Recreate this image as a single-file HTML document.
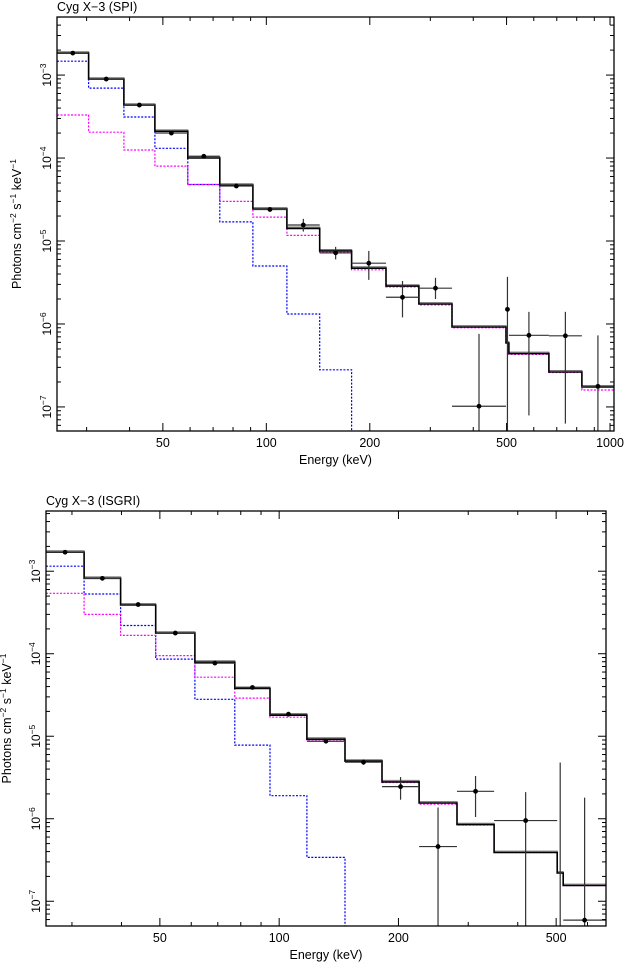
<!DOCTYPE html>
<html><head><meta charset="utf-8"><style>
html,body{margin:0;padding:0;background:#fff}
svg{display:block;font-family:"Liberation Sans",sans-serif}
</style></head><body>
<svg id="chart" width="625" height="963" viewBox="0 0 625 963" xmlns="http://www.w3.org/2000/svg"></svg>
<script>
// ---- SPI panel data ----
const spiEdges = [24.6,30.4,38.5,47.4,59.1,73.2,91.4,114.8,143,177,223,278,347,498,508,664,828,1027];
const spiTotal = [1.84e-3,8.95e-4,4.35e-4,2.1e-4,1.0e-4,4.7e-5,2.43e-5,1.42e-5,7.6e-6,4.7e-6,2.86e-6,1.74e-6,9.2e-7,5.9e-7,4.4e-7,2.64e-7,1.74e-7];
const spiComp2 = [3.3e-4,2.05e-4,1.25e-4,8.0e-5,4.8e-5,3.0e-5,1.94e-5,1.17e-5,7.3e-6,4.5e-6,2.8e-6,1.7e-6,9.0e-7,5.8e-7,4.3e-7,2.6e-7,1.6e-7];
const spiComp1 = [1.47e-3,6.97e-4,3.12e-4,1.31e-4,4.8e-5,1.7e-5,5.0e-6,1.32e-6,2.8e-7,1e-9,1e-9,1e-9,1e-9,1e-9,1e-9,1e-9,1e-9];
const spiData  = [1.84e-3,8.95e-4,4.35e-4,2.0e-4,1.05e-4,4.6e-5,2.4e-5,1.56e-5,7.2e-6,5.4e-6,2.1e-6,2.7e-6,1.02e-7,1.5e-6,7.3e-7,7.2e-7,1.77e-7];
const spiLo    = [1.78e-3,8.7e-4,4.2e-4,1.9e-4,1.0e-4,4.4e-5,2.25e-5,1.3e-5,6.0e-6,3.4e-6,1.2e-6,2.0e-6,1e-9,1e-9,7.9e-8,6.3e-8,1e-9];
const spiHi    = [1.9e-3,9.2e-4,4.5e-4,2.1e-4,1.1e-4,4.8e-5,2.55e-5,1.85e-5,8.5e-6,7.6e-6,3.3e-6,3.6e-6,7.6e-7,3.7e-6,1.4e-6,1.4e-6,7.3e-7];
const spiXTicks = [50,100,200,500,1000];
const spiYTicks = [-3,-4,-5,-6,-7];
// ---- ISGRI panel data ----
const isgEdges = [25.8,32.2,39.8,48.8,61.3,77.3,94.8,117.5,146.6,181.8,225.5,281,348.7,503,521,668];
const isgTotal = [1.7e-3,8.2e-4,3.9e-4,1.78e-4,7.9e-5,3.8e-5,1.8e-5,9.2e-6,5.0e-6,2.8e-6,1.55e-6,8.5e-7,3.9e-7,2.2e-7,1.55e-7];
const isgComp2 = [5.4e-4,3.0e-4,1.67e-4,9.5e-5,5.2e-5,2.9e-5,1.7e-5,8.8e-6,4.9e-6,2.75e-6,1.5e-6,8.4e-7,3.9e-7,2.2e-7,1.55e-7];
const isgComp1 = [1.15e-3,5.3e-4,2.2e-4,8.6e-5,2.8e-5,7.8e-6,1.9e-6,3.4e-7,1e-9,1e-9,1e-9,1e-9,1e-9,1e-9,1e-9];
const isgData  = [1.7e-3,8.2e-4,3.95e-4,1.78e-4,7.7e-5,3.9e-5,1.85e-5,8.7e-6,4.85e-6,2.45e-6,4.6e-7,2.15e-6,9.5e-7,1e-9,5.9e-8];
const isgLo    = [1.65e-3,8.0e-4,3.85e-4,1.73e-4,7.5e-5,3.8e-5,1.78e-5,8.2e-6,4.5e-6,1.7e-6,1e-9,1.05e-6,1e-9,1e-9,1e-9];
const isgHi    = [1.75e-3,8.4e-4,4.05e-4,1.83e-4,7.9e-5,4.0e-5,1.92e-5,9.2e-6,5.2e-6,3.2e-6,1.37e-6,3.3e-6,2.1e-6,4.8e-6,1.8e-6];
const isgXTicks = [50,100,200,500];
const isgYTicks = [-3,-4,-5,-6,-7];

const NS="http://www.w3.org/2000/svg";
const svg=document.getElementById('chart');
function mk(tag,attrs,parent){const e=document.createElementNS(NS,tag);for(const k in attrs)e.setAttribute(k,attrs[k]);(parent||svg).appendChild(e);return e;}

function panel(cfg){
  const g=mk('g',{});
  
  
  const L=cfg.L,R=cfg.R,T=cfg.T,B=cfg.B;
  const lx0=Math.log10(cfg.xmin),lx1=Math.log10(cfg.xmax),ly0=cfg.ymin,ly1=cfg.ymax;
  const X=e=>L+(Math.log10(e)-lx0)/(lx1-lx0)*(R-L);
  const Y=v=>{let l=Math.log10(Math.max(v,1e-12));l=Math.max(l,ly0-0.5);return B-(l-ly0)/(ly1-ly0)*(B-T);};
  const clip='clip-'+cfg.name;
  const cp=mk('clipPath',{id:clip},g);mk('rect',{x:L,y:T,width:R-L,height:B-T},cp);
  const plot=mk('g',{'clip-path':'url(#'+clip+')'},g);
  function step(vals,stroke,w,dash,name){
    let d='';
    for(let i=0;i<vals.length;i++){
      const x0=X(cfg.edges[i]),x1=X(cfg.edges[i+1]),y=Y(vals[i]);
      d+=(i===0?'M':'L')+x0.toFixed(1)+','+y.toFixed(1)+'L'+x1.toFixed(1)+','+y.toFixed(1);
    }
    const p=mk('path',{d:d,fill:'none',stroke:stroke,'stroke-width':w,'stroke-dasharray':dash||'none'},plot);
    
    
  }
  step(cfg.comp1,'#0000ff',1.2,'2,1.5','absorbed-component-model');
  step(cfg.comp2,'#ff00ff',1.2,'2,1.5','power-law-component-model');
  step(cfg.total.map(v=>v*1.04),'#777',1,'','data-histogram');
  step(cfg.total,'#000',1.6,'','total-model');
  for(let i=0;i<cfg.data.length;i++){
    const x0=X(cfg.edges[i]),x1=X(cfg.edges[i+1]);
    const xc=X(Math.sqrt(cfg.edges[i]*cfg.edges[i+1]));
    const y=Y(cfg.data[i]);
    const eg=mk('g',{},plot);
    
    
    mk('line',{x1:x0,x2:x1,y1:y,y2:y,stroke:'#333','stroke-width':1.2},eg);
    mk('line',{x1:xc,x2:xc,y1:Y(cfg.lo[i]),y2:Y(cfg.hi[i]),stroke:'#333','stroke-width':1.2},eg);
    mk('circle',{cx:xc,cy:y,r:2.4,fill:'#000'},eg);
  }
  const fr=mk('rect',{x:L,y:T,width:R-L,height:B-T,fill:'none',stroke:'#000','stroke-width':1.3},g);
  
  
  const minorX=[];
  for(let d=10;d<=1000;d*=10)for(let m=1;m<10;m++){const e=m*d;if(e>=cfg.xmin&&e<=cfg.xmax)minorX.push(e);}
  minorX.forEach(e=>{const x=X(e);const maj=cfg.xticks.indexOf(e)>=0||e===100||e===1000;const len=maj?8:4;
    mk('line',{x1:x,x2:x,y1:B,y2:B-len,stroke:'#000','stroke-width':1},g);
    mk('line',{x1:x,x2:x,y1:T,y2:T+len,stroke:'#000','stroke-width':1},g);});
  cfg.xticks.forEach(e=>{const t=mk('text',{x:X(e),y:B+16,'font-size':12.5,'text-anchor':'middle'},g);t.textContent=e;
    });
  for(let p=-8;p<=-2;p++)for(let m=1;m<10;m++){const v=m*Math.pow(10,p);const l=Math.log10(v);if(l<ly0||l>ly1)continue;
    const y=Y(v);const len=m===1?8:4;
    mk('line',{x1:L,x2:L+len,y1:y,y2:y,stroke:'#000','stroke-width':1},g);
    mk('line',{x1:R,x2:R-len,y1:y,y2:y,stroke:'#000','stroke-width':1},g);}
  cfg.yticks.forEach(p=>{const y=Y(Math.pow(10,p));
    const t=mk('text',{transform:'translate('+(L-6)+','+y+') rotate(-90)','font-size':12,'text-anchor':'middle'},g);
    
    const a=mk('tspan',{},t);a.textContent='10';const b=mk('tspan',{'baseline-shift':'super','font-size':8.5},t);b.textContent='\u2212'+(-p);});
  const tt=mk('text',{x:L,y:T-6,'font-size':12.5},g);tt.textContent=cfg.title;
  
  const xt=mk('text',{x:(L+R)/2,y:B+33,'font-size':12.5,'text-anchor':'middle'},g);xt.textContent='Energy (keV)';
  
  const yt=mk('text',{transform:'translate('+cfg.ytx+','+((T+B)/2)+') rotate(-90)','font-size':12.5,'text-anchor':'middle'},g);
  
  const parts=[['Photons cm',0],['\u22122',1],[' s',0],['\u22121',1],[' keV',0],['\u22121',1]];
  parts.forEach(([s,sup])=>{const sp=mk('tspan',sup?{'baseline-shift':'super','font-size':8.5}:{},yt);sp.textContent=s;});
}
panel({name:'spi-panel',title:'Cyg X\u22123 (SPI)',L:57,R:614,T:17,B:431,xmin:24.6,xmax:1027,ymin:-7.29,ymax:-2.30,
  edges:spiEdges,total:spiTotal,comp1:spiComp1,comp2:spiComp2,data:spiData,lo:spiLo,hi:spiHi,xticks:spiXTicks,yticks:spiYTicks,ytx:21});
panel({name:'isgri-panel',title:'Cyg X\u22123 (ISGRI)',L:46,R:606,T:511,B:926,xmin:25.8,xmax:668,ymin:-7.30,ymax:-2.27,
  edges:isgEdges,total:isgTotal,comp1:isgComp1,comp2:isgComp2,data:isgData,lo:isgLo,hi:isgHi,xticks:isgXTicks,yticks:isgYTicks,ytx:11});
</script>
</body></html>
